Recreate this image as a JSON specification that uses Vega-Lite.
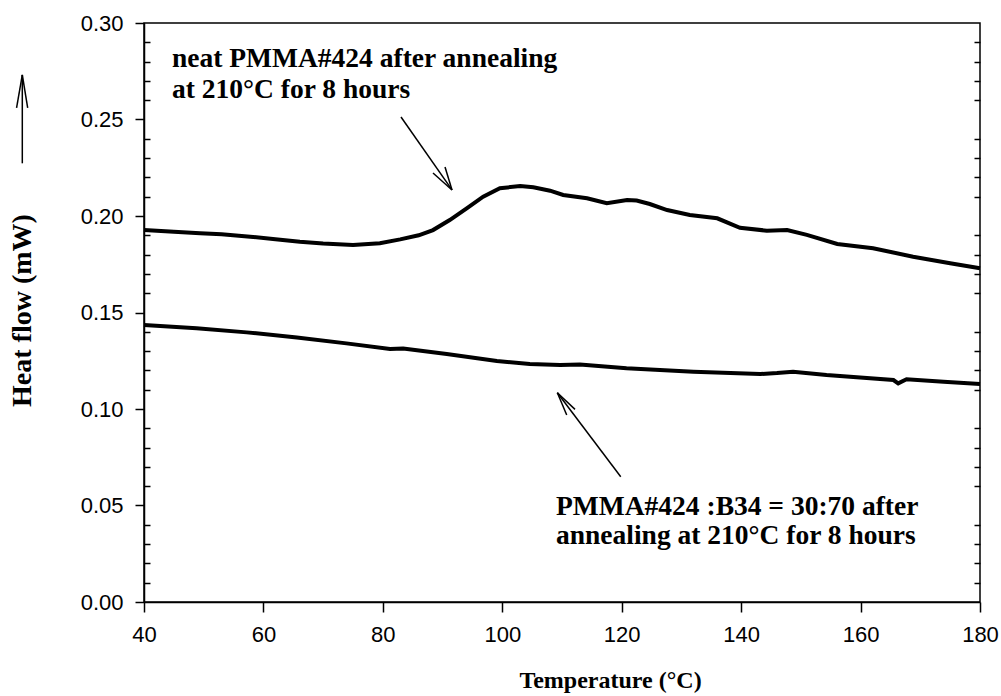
{
  "$schema": "https://vega.github.io/schema/vega-lite/v6.json",
  "autosize": "none",
  "width": 836,
  "height": 579,
  "padding": {"left": 144, "top": 23, "right": 21, "bottom": 94},
  "background": "white",
  "config": {
    "view": {"stroke": "black", "strokeWidth": 1.5},
    "axis": {
      "domainColor": "black", "domainWidth": 1.5, "tickColor": "black", "tickWidth": 1.5,
      "grid": false, "labelColor": "black", "labelFont": "Liberation Sans", "labelFontSize": 22,
      "titleColor": "black", "titleFont": "Liberation Serif", "titleFontSize": 26, "titleFontWeight": "bold",
      "labelOverlap": false, "labelFlush": false
    }
  },
  "datasets": {
    "curves": [
      {"T": 40, "hf": 0.1927, "s": "neat"},
      {"T": 45, "hf": 0.1918, "s": "neat"},
      {"T": 49.4, "hf": 0.1910, "s": "neat"},
      {"T": 53, "hf": 0.1905, "s": "neat"},
      {"T": 57.8, "hf": 0.1893, "s": "neat"},
      {"T": 62, "hf": 0.1880, "s": "neat"},
      {"T": 66.1, "hf": 0.1867, "s": "neat"},
      {"T": 70, "hf": 0.1858, "s": "neat"},
      {"T": 75, "hf": 0.1850, "s": "neat"},
      {"T": 79.5, "hf": 0.1859, "s": "neat"},
      {"T": 82.9, "hf": 0.1879, "s": "neat"},
      {"T": 86, "hf": 0.1900, "s": "neat"},
      {"T": 88.4, "hf": 0.1927, "s": "neat"},
      {"T": 91.2, "hf": 0.1979, "s": "neat"},
      {"T": 94.1, "hf": 0.2041, "s": "neat"},
      {"T": 96.8, "hf": 0.2100, "s": "neat"},
      {"T": 99.6, "hf": 0.2144, "s": "neat"},
      {"T": 103, "hf": 0.2155, "s": "neat"},
      {"T": 105.2, "hf": 0.2149, "s": "neat"},
      {"T": 108, "hf": 0.2131, "s": "neat"},
      {"T": 110.2, "hf": 0.2109, "s": "neat"},
      {"T": 114.2, "hf": 0.2092, "s": "neat"},
      {"T": 117.5, "hf": 0.2066, "s": "neat"},
      {"T": 120.9, "hf": 0.2083, "s": "neat"},
      {"T": 122.5, "hf": 0.2080, "s": "neat"},
      {"T": 124.7, "hf": 0.2062, "s": "neat"},
      {"T": 127.6, "hf": 0.2031, "s": "neat"},
      {"T": 131.4, "hf": 0.2005, "s": "neat"},
      {"T": 136, "hf": 0.1988, "s": "neat"},
      {"T": 139.8, "hf": 0.1939, "s": "neat"},
      {"T": 144.3, "hf": 0.1924, "s": "neat"},
      {"T": 147.7, "hf": 0.1927, "s": "neat"},
      {"T": 151, "hf": 0.1902, "s": "neat"},
      {"T": 156.1, "hf": 0.1855, "s": "neat"},
      {"T": 162.1, "hf": 0.1833, "s": "neat"},
      {"T": 168.8, "hf": 0.1789, "s": "neat"},
      {"T": 175, "hf": 0.1755, "s": "neat"},
      {"T": 180, "hf": 0.1729, "s": "neat"},
      {"T": 40, "hf": 0.1435, "s": "blend"},
      {"T": 48.8, "hf": 0.1418, "s": "blend"},
      {"T": 57.2, "hf": 0.1397, "s": "blend"},
      {"T": 65.6, "hf": 0.1371, "s": "blend"},
      {"T": 73.9, "hf": 0.1340, "s": "blend"},
      {"T": 81.2, "hf": 0.1311, "s": "blend"},
      {"T": 83.4, "hf": 0.1314, "s": "blend"},
      {"T": 90.7, "hf": 0.1285, "s": "blend"},
      {"T": 99.1, "hf": 0.1249, "s": "blend"},
      {"T": 104.6, "hf": 0.1233, "s": "blend"},
      {"T": 109.7, "hf": 0.1228, "s": "blend"},
      {"T": 113, "hf": 0.1230, "s": "blend"},
      {"T": 120.8, "hf": 0.1211, "s": "blend"},
      {"T": 132, "hf": 0.1193, "s": "blend"},
      {"T": 143.2, "hf": 0.1181, "s": "blend"},
      {"T": 146, "hf": 0.1186, "s": "blend"},
      {"T": 148.7, "hf": 0.1193, "s": "blend"},
      {"T": 154.3, "hf": 0.1176, "s": "blend"},
      {"T": 165.5, "hf": 0.1150, "s": "blend"},
      {"T": 166.3, "hf": 0.1133, "s": "blend"},
      {"T": 167.7, "hf": 0.1154, "s": "blend"},
      {"T": 173.9, "hf": 0.1141, "s": "blend"},
      {"T": 180, "hf": 0.1130, "s": "blend"}
    ],
    "arrows": [
      {"T": 83.04, "hf": 0.2513, "T2": 91.58, "hf2": 0.2135},
      {"T": 91.58, "hf": 0.2135, "T2": 88.40, "hf2": 0.2223},
      {"T": 91.58, "hf": 0.2135, "T2": 90.41, "hf2": 0.2254},
      {"T": 109.22, "hf": 0.1084, "T2": 119.84, "hf2": 0.0649},
      {"T": 109.22, "hf": 0.1084, "T2": 112.18, "hf2": 0.0998},
      {"T": 109.22, "hf": 0.1084, "T2": 110.79, "hf2": 0.0969},
      {"T": 19.62, "hf": 0.2731, "T2": 19.62, "hf2": 0.2273},
      {"T": 19.62, "hf": 0.2731, "T2": 18.66, "hf2": 0.2560},
      {"T": 19.62, "hf": 0.2731, "T2": 20.52, "hf2": 0.2560}
    ],
    "labels": [
      {"T": 44.69, "hf": 0.2774, "text": "neat PMMA#424 after annealing"},
      {"T": 44.69, "hf": 0.2613, "text": "at 210°C for 8 hours"},
      {"T": 109.0, "hf": 0.0451, "text": "PMMA#424 :B34 = 30:70 after"},
      {"T": 109.0, "hf": 0.0301, "text": "annealing at 210°C for 8 hours"}
    ]
  },
  "resolve": {"axis": {"y": "independent"}},
  "layer": [
    {
      "data": {"name": "curves"},
      "mark": {"type": "line", "color": "black", "strokeWidth": 4},
      "encoding": {
        "x": {"field": "T", "type": "quantitative",
          "scale": {"domain": [40, 180], "nice": false, "zero": false},
          "axis": {"values": [40, 60, 80, 100, 120, 140, 160, 180], "tickSize": 10, "labelPadding": 12,
            "title": "Temperature (°C)", "titleFontSize": 24, "titleX": 466, "titleY": 85, "titleBaseline": "alphabetic", "titleAlign": "center"}},
        "y": {"field": "hf", "type": "quantitative",
          "scale": {"domain": [0, 0.3], "nice": false, "zero": false},
          "axis": {"orient": "left", "values": [0, 0.05, 0.1, 0.15, 0.2, 0.25, 0.3], "format": ".2f", "tickSize": 9, "labelPadding": 12,
            "title": "Heat flow (mW)", "titleFontSize": 28, "titleAngle": 270, "titleX": -122, "titleY": 287, "titleBaseline": "middle", "titleAlign": "center"}},
        "detail": {"field": "s", "type": "nominal"}
      }
    },
    {
      "data": {"name": "arrows"},
      "mark": {"type": "rule", "color": "black", "strokeWidth": 1.5},
      "encoding": {
        "x": {"field": "T", "type": "quantitative"},
        "x2": {"field": "T2"},
        "y": {"field": "hf", "type": "quantitative",
          "axis": {"orient": "left", "values": [0.01, 0.02, 0.03, 0.04, 0.06, 0.07, 0.08, 0.09, 0.11, 0.12, 0.13, 0.14, 0.16, 0.17, 0.18, 0.19, 0.21, 0.22, 0.23, 0.24, 0.26, 0.27, 0.28, 0.29],
            "tickSize": -6, "labels": false, "domain": false, "title": null}},
        "y2": {"field": "hf2"}
      }
    },
    {
      "data": {"name": "labels"},
      "mark": {"type": "text", "color": "black", "font": "Liberation Serif", "fontWeight": "bold", "fontSize": 27.5, "align": "left", "baseline": "alphabetic"},
      "encoding": {
        "x": {"field": "T", "type": "quantitative"},
        "y": {"field": "hf", "type": "quantitative",
          "axis": {"orient": "right", "values": [0.01, 0.02, 0.03, 0.04, 0.06, 0.07, 0.08, 0.09, 0.11, 0.12, 0.13, 0.14, 0.16, 0.17, 0.18, 0.19, 0.21, 0.22, 0.23, 0.24, 0.26, 0.27, 0.28, 0.29],
            "tickSize": -6, "labels": false, "domain": false, "title": null}},
        "text": {"field": "text", "type": "nominal"}
      }
    }
  ]
}
